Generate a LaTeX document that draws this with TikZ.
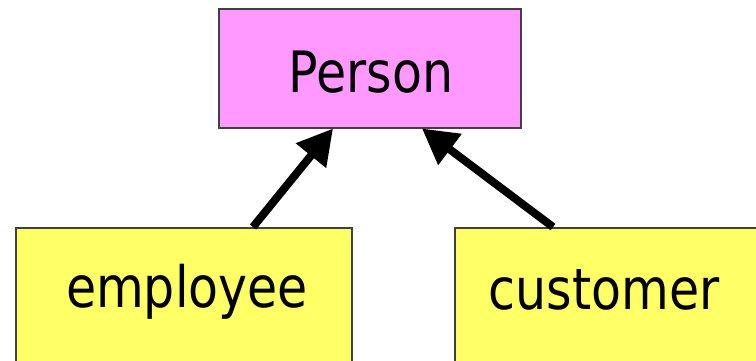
\documentclass[tikz,border=0pt]{standalone}
\usepackage{fontspec}
\setmainfont{DejaVu Sans}[FakeStretch=0.86]
\usetikzlibrary{arrows.meta,calc}
\definecolor{pinkfill}{HTML}{FF99FF}
\definecolor{yellowfill}{HTML}{FFFF66}
\definecolor{edgegray}{HTML}{404040}
\tikzset{
  classbox/.style={draw=edgegray, line width=1.5pt, rectangle, inner sep=0pt},
  boxtext/.style={font=\fontsize{57}{60}\selectfont, inner sep=0pt, anchor=base},
  inherit/.style={line width=8pt, -{Triangle[length=35pt,width=37pt]}}
}
\begin{document}
\begin{tikzpicture}[x=1pt,y=-1pt]
\useasboundingbox (0,0) rectangle (756,360);
\clip (0,0) rectangle (756,360);
\fill[white] (0,0) rectangle (756,360);
\node[classbox, fill=pinkfill, minimum width=302pt, minimum height=119pt, anchor=north west] (person) at (218,8) {};
\node[boxtext] (persont) at (371,92) {Person};
\node[classbox, fill=yellowfill, minimum width=336pt, minimum height=200pt, anchor=north west] (emp) at (15,227) {};
\node[boxtext] (empt) at (187,307) {employee};
\node[classbox, fill=yellowfill, minimum width=340pt, minimum height=200pt, anchor=north west] (cust) at (454,227) {};
\node[boxtext] (custt) at (604,309) {customer};
\draw[inherit] ($(emp.north west)+(238,0)$) -- ($(person.south west)+(115,0)$);
\draw[inherit] ($(cust.north west)+(99,0)$) -- ($(person.south west)+(204,0)$);
\end{tikzpicture}
\end{document}
